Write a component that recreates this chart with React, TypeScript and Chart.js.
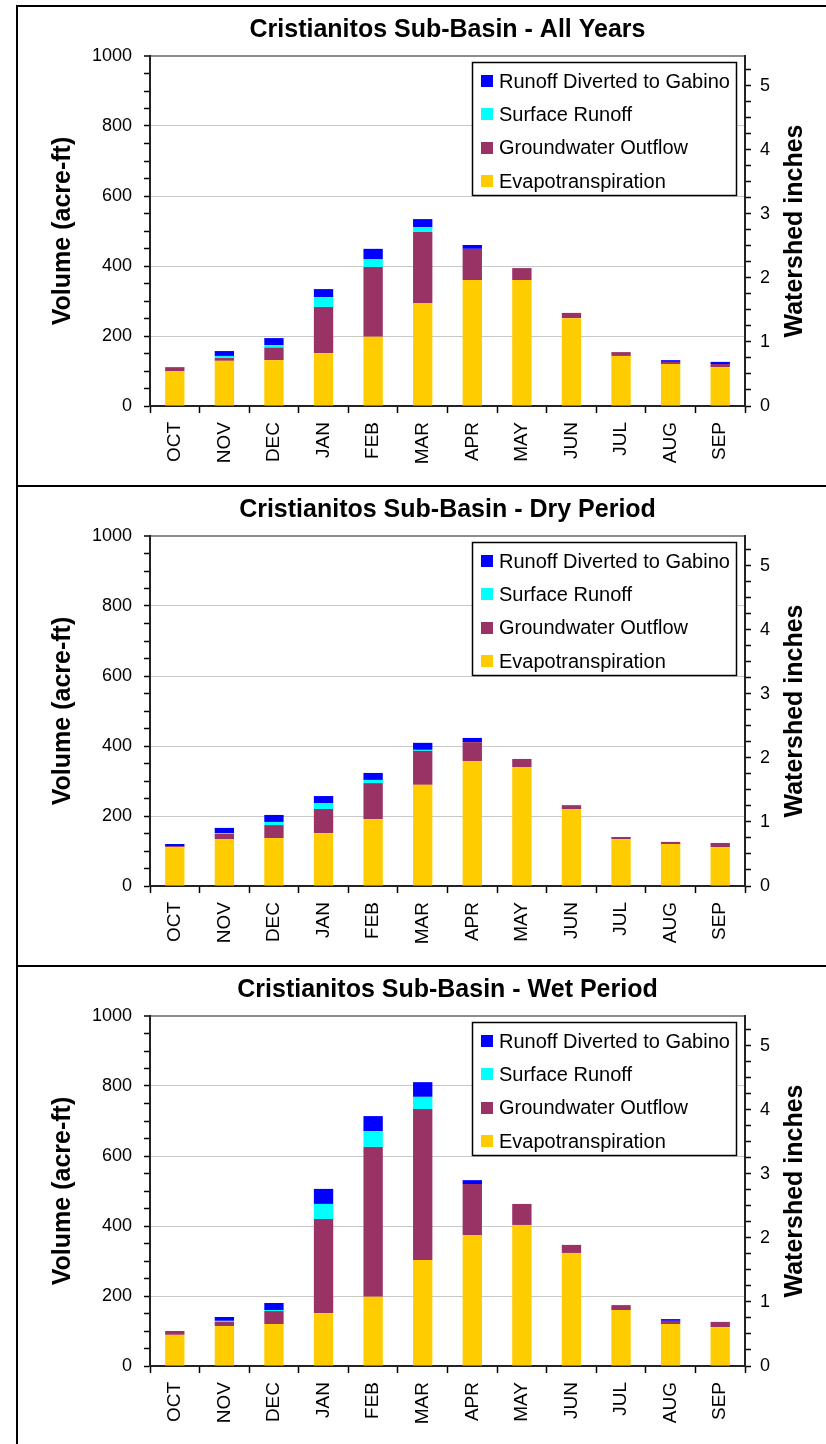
import React, { useEffect, useRef } from "react";
import { Chart, registerables } from "chart.js";

Chart.register(...registerables);

const MONTHS = ["OCT", "NOV", "DEC", "JAN", "FEB", "MAR", "APR", "MAY", "JUN", "JUL", "AUG", "SEP"];

const SERIES_LABELS = ["Evapotranspiration", "Groundwater Outflow", "Surface Runoff", "Runoff Diverted to Gabino"];
const SERIES_COLORS = ["#FFCC00", "#993366", "#00FFFF", "#0000FF"];

// All Years
const ALL_ET = [100, 129, 131, 151, 198, 294, 360, 360, 251, 143, 120, 111];
const ALL_GW = [11, 8, 36, 132, 199, 203, 89, 34, 15, 11, 6, 9];
const ALL_SR = [0, 6, 7, 28, 23, 14, 0, 0, 0, 0, 0, 0];
const ALL_RD = [0, 14, 20, 23, 29, 23, 11, 0, 0, 0, 5, 6];

// Dry Period
const DRY_ET = [111, 134, 137, 151, 191, 289, 357, 340, 220, 134, 120, 111];
const DRY_GW = [3, 15, 37, 69, 103, 97, 54, 23, 11, 6, 6, 12];
const DRY_SR = [0, 2, 9, 17, 9, 3, 0, 0, 0, 0, 0, 0];
const DRY_RD = [6, 15, 20, 20, 20, 20, 12, 0, 0, 0, 0, 0];

// Wet Period
const WET_ET = [89, 114, 120, 151, 198, 303, 374, 403, 323, 160, 120, 111];
const WET_GW = [11, 12, 37, 269, 428, 431, 146, 60, 23, 14, 9, 15];
const WET_SR = [0, 3, 3, 43, 45, 35, 0, 0, 0, 0, 0, 0];
const WET_RD = [0, 11, 20, 43, 43, 42, 11, 0, 0, 0, 5, 0];

const LEFT_TICKS = [0, 50, 100, 150, 200, 250, 300, 350, 400, 450, 500, 550, 600, 650, 700, 750, 800, 850, 900, 950, 1000];
const RIGHT_TICKS = [0, 0.25, 0.5, 0.75, 1, 1.25, 1.5, 1.75, 2, 2.25, 2.5, 2.75, 3, 3.25, 3.5, 3.75, 4, 4.25, 4.5, 4.75, 5, 5.25];
const ACRE_FT_PER_INCH = 182.86;
const LEFT_MAX = 1000;
const RIGHT_TITLE = "Watershed inches";

const FONT = "'Liberation Sans', Arial, sans-serif";

const boxLegend = {
  id: "boxLegend",
  afterDraw(chart: any) {
    const { ctx, chartArea } = chart;
    const w = 265;
    const h = 134;
    const x = Math.round(chartArea.right - 8 - w);
    const y = Math.round(chartArea.top + 6);
    ctx.save();
    ctx.fillStyle = "#ffffff";
    ctx.fillRect(x, y, w, h);
    ctx.strokeStyle = "#000000";
    ctx.lineWidth = 1.5;
    ctx.strokeRect(x + 0.5, y + 0.5, w - 1, h - 1);
    const ds = chart.data.datasets.slice().reverse();
    ds.forEach((d: any, i: number) => {
      const cy = y + 19 + i * 33.4;
      ctx.fillStyle = d.backgroundColor;
      ctx.fillRect(x + 9, Math.round(cy - 6), 12, 12);
      ctx.fillStyle = "#000000";
      ctx.font = `20px ${FONT}`;
      ctx.textBaseline = "middle";
      ctx.textAlign = "left";
      ctx.fillText(d.label, x + 27, cy + 1);
    });
    // right axis title, reading bottom-to-top
    ctx.save();
    ctx.translate(chart.width - 31, (chartArea.top + chartArea.bottom) / 2);
    ctx.rotate(-Math.PI / 2);
    ctx.font = `bold 25px ${FONT}`;
    ctx.textAlign = "center";
    ctx.textBaseline = "middle";
    ctx.fillStyle = "#000";
    ctx.fillText(RIGHT_TITLE, 0, 0);
    ctx.restore();
    ctx.restore();
  },
};

function Panel({ title, series }: { title: string; series: number[][] }) {
  const ref = useRef<HTMLCanvasElement | null>(null);
  useEffect(() => {
    if (!ref.current) return;
    const chart = new Chart(ref.current, {
      type: "bar",
      data: {
        labels: MONTHS,
        datasets: series.map((vals, i) => ({
          label: SERIES_LABELS[i],
          data: vals,
          backgroundColor: SERIES_COLORS[i],
          borderWidth: 0,
          yAxisID: "y",
          categoryPercentage: 1,
          barPercentage: 0.39,
        })),
      },
      options: {
        animation: false,
        responsive: false,
        maintainAspectRatio: false,
        layout: { padding: 0 },
        plugins: {
          legend: { display: false },
          tooltip: { enabled: false },
          title: {
            display: true,
            fullSize: false,
            text: title,
            color: "#000",
            font: { family: FONT, size: 25, weight: "bold" },
            padding: { top: 8.5, bottom: 10.5 },
          },
        },
        scales: {
          x: {
            stacked: true,
            afterFit: (s: any) => {
              s.height = 79;
            },
            grid: {
              offset: true,
              drawOnChartArea: false,
              drawTicks: true,
              tickLength: 7,
              tickColor: "#000",
              tickWidth: 1.5,
            },
            border: { display: true, color: "#222", width: 2 },
            ticks: {
              color: "#000",
              font: { family: FONT, size: 19 },
              minRotation: 90,
              maxRotation: 90,
              autoSkip: false,
              padding: 9,
            },
          },
          y: {
            stacked: true,
            position: "left",
            min: 0,
            max: LEFT_MAX,
            afterFit: (s: any) => {
              s.width = 132;
            },
            afterBuildTicks: (s: any) => {
              s.ticks = LEFT_TICKS.map((v) => ({ value: v }));
            },
            grid: {
              drawOnChartArea: true,
              color: (c: any) => {
                const v = c.tick ? c.tick.value : 0;
                if (v === 1000) return "#8c8c8c";
                if (v > 0 && v % 200 === 0) return "#c8c8c8";
                return "rgba(0,0,0,0)";
              },
              lineWidth: (c: any) => (c.tick && c.tick.value === 1000 ? 2 : 1),
              tickColor: "#000",
              tickLength: 6,
              tickWidth: 1.5,
            },
            border: { display: true, color: "#222", width: 2 },
            ticks: {
              color: "#000",
              font: { family: FONT, size: 18 },
              autoSkip: false,
              padding: 12,
              callback: (v: any) => (Number(v) % 200 === 0 ? String(v) : ""),
            },
            title: {
              display: true,
              text: "Volume (acre-ft)",
              color: "#000",
              font: { family: FONT, size: 25, weight: "bold" },
              padding: { top: 30, bottom: 0 },
            },
          },
          y2: {
            position: "right",
            min: 0,
            max: LEFT_MAX / ACRE_FT_PER_INCH,
            afterFit: (s: any) => {
              s.width = 81;
            },
            afterBuildTicks: (s: any) => {
              s.ticks = RIGHT_TICKS.map((v) => ({ value: v }));
            },
            grid: {
              drawOnChartArea: false,
              tickColor: "#000",
              tickLength: 6,
              tickWidth: 1.5,
            },
            border: { display: true, color: "#222", width: 2 },
            ticks: {
              color: "#000",
              font: { family: FONT, size: 18 },
              autoSkip: false,
              padding: 9,
              callback: (v: any) => (Number.isInteger(Number(v)) ? String(v) : ""),
            },
            title: { display: false },
          },
        },
      },
      plugins: [boxLegend],
    } as any);
    return () => chart.destroy();
  }, [title, series]);

  return (
    <div
      style={{
        borderTop: "2px solid #000",
        borderLeft: "2px solid #000",
        width: 808,
        height: 478,
      }}
    >
      <canvas ref={ref} width={808} height={478} style={{ display: "block", width: 808, height: 478 }} />
    </div>
  );
}

export default function App() {
  return (
    <div style={{ position: "absolute", left: 16, top: 5, width: 810, background: "#fff" }}>
      <Panel title="Cristianitos Sub-Basin - All Years" series={[ALL_ET, ALL_GW, ALL_SR, ALL_RD]} />
      <Panel title="Cristianitos Sub-Basin - Dry Period" series={[DRY_ET, DRY_GW, DRY_SR, DRY_RD]} />
      <Panel title="Cristianitos Sub-Basin - Wet Period" series={[WET_ET, WET_GW, WET_SR, WET_RD]} />
    </div>
  );
}
